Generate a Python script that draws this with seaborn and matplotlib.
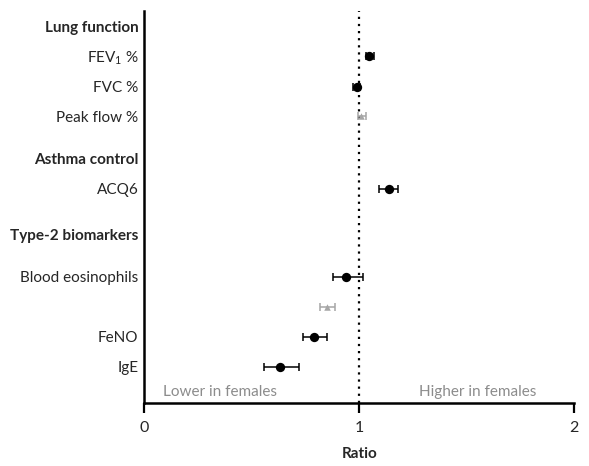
import matplotlib
matplotlib.use("Agg")
import matplotlib.pyplot as plt
import seaborn as sns
import pandas as pd
import numpy as np

# ---- data ----
labels = ["Lung function", "FEV$_\\mathregular{1}$ %", "FVC %", "Peak flow %",
          "Asthma control", "ACQ6", "Type-2 biomarkers", "Blood eosinophils",
          "", "FeNO", "IgE"]
is_header = [True, False, False, False, True, False, True, False, False, False, False]
ratio = [np.nan, 1.048, 0.989, 1.010, np.nan, 1.141, np.nan, 0.940, 0.850, 0.790, 0.630]
ci_low = [np.nan, 1.030, 0.970, 0.995, np.nan, 1.090, np.nan, 0.880, 0.820, 0.740, 0.560]
ci_high = [np.nan, 1.070, 1.005, 1.030, np.nan, 1.180, np.nan, 1.020, 0.890, 0.850, 0.720]
kind = ["", "sig", "sig", "ns", "", "sig", "", "sig", "ns", "sig", "sig"]
xticks = [0, 1, 2]

# layout (row positions in axis units)
row_pos = [0, 0.97, 2.0, 2.97, 4.4, 5.4, 6.9, 8.33, 9.33, 10.33, 11.33]

sns.set_style("ticks")
plt.rcParams['font.family'] = ['Lato', 'DejaVu Sans']
plt.rcParams['mathtext.default'] = 'regular'

df = pd.DataFrame({"label": labels, "ratio": ratio, "lo": ci_low, "hi": ci_high,
                   "kind": kind, "y": row_pos})

fig = plt.figure(figsize=(5.89, 4.66), dpi=100)
ax = fig.add_axes([144/589, 1-402.7/466, (574.3-144)/589, (402.7-11)/466])

colors = {"sig": "black", "ns": "#a6a6a6"}
markers = {"sig": "o", "ns": "^"}
sizes = {"sig": 45, "ns": 22}

ax.axvline(1, color="black", ls=(0, (1, 2.2)), lw=1.6, zorder=1)

d = df.dropna(subset=["ratio"])
for k in ["sig", "ns"]:
    sub = d[d.kind == k]
    ax.errorbar(sub.ratio, sub.y, xerr=[sub.ratio - sub.lo, sub.hi - sub.ratio],
                fmt="none", ecolor=colors[k], elinewidth=1.1, capsize=3.2,
                capthick=1.1, zorder=2)
    sns.scatterplot(data=sub, x="ratio", y="y", ax=ax, color=colors[k],
                    marker=markers[k], s=sizes[k], edgecolor=colors[k],
                    linewidth=0, zorder=3, legend=False)

ax.set_xlim(0, 2)
ax.set_ylim(12.52, -0.53)
ax.set_xticks(xticks)
ax.set_xticklabels([str(t) for t in xticks], fontsize=11.5)
ax.set_yticks(row_pos)
ax.set_yticklabels(labels, fontsize=11)
for t, h in zip(ax.get_yticklabels(), is_header):
    if h:
        t.set_fontweight("bold")
ax.tick_params(axis="y", length=0, pad=4)
ax.tick_params(axis="x", length=7, width=1.6, pad=6, color="black")
ax.set_xlabel("Ratio", fontsize=11, fontweight="bold", labelpad=9)
ax.set_ylabel("")
for s in ["left", "bottom"]:
    ax.spines[s].set_linewidth(1.8)
    ax.spines[s].set_color("black")
sns.despine(ax=ax)

ax.text(0.09, 12.15, "Lower in females", color="#8c8c8c", fontsize=11,
        ha="left", va="center")
ax.text(1.826, 12.15, "Higher in females", color="#8c8c8c", fontsize=11,
        ha="right", va="center")

fig.savefig("out.png", dpi=100)
